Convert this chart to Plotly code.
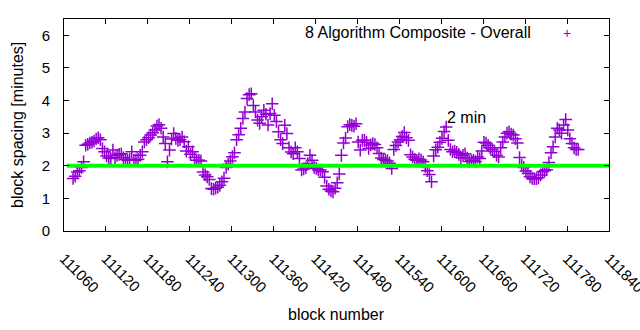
import plotly.graph_objects as go

# ---- data ----
block_start = 111073
block_step = 3
spacing_minutes = [
    1.61, 1.68, 1.81, 1.85, 1.95, 2.12, 2.63, 2.66, 2.70, 2.72,
    2.76, 2.82, 2.86, 2.80, 2.53, 2.43, 2.30, 2.24, 2.22, 2.48,
    2.25, 2.32, 2.35, 2.37, 2.25, 2.19, 2.17, 2.20, 2.43, 2.17,
    2.18, 2.20, 2.32, 2.43, 2.73, 2.80, 2.86, 2.94, 3.01, 3.10,
    3.22, 3.26, 3.15, 2.88, 2.68, 2.12, 2.48, 2.82, 2.99, 2.84,
    2.78, 2.80, 2.88, 2.74, 2.45, 2.58, 2.35, 2.43, 2.25, 2.17,
    2.17, 2.15, 1.81, 1.72, 1.66, 1.58, 1.30, 1.28, 1.31, 1.34,
    1.40, 1.51, 1.62, 1.95, 2.05, 2.15, 2.28, 2.40, 2.80, 2.95,
    3.15, 3.45, 3.65, 4.06, 4.18, 4.21, 3.85, 3.65, 3.40, 3.30,
    3.50, 3.70, 3.58, 3.25, 3.60, 3.90, 3.55, 3.36, 3.04, 2.80,
    2.68, 3.24, 2.99, 2.55, 2.42, 2.37, 2.55, 2.43, 2.22, 1.87,
    1.90, 1.94, 2.07, 2.32, 2.17, 1.95, 1.92, 1.87, 1.87, 1.82,
    1.65, 1.38, 1.28, 1.23, 1.20, 1.31, 1.48, 1.75, 2.32, 2.70,
    2.85, 3.20, 3.26, 3.24, 3.21, 3.29, 2.73, 2.48, 2.78, 2.78,
    2.72, 2.53, 2.64, 2.68, 2.65, 2.55, 2.38, 2.24, 2.19, 2.17,
    2.15, 2.08, 1.92, 2.50, 2.62, 2.73, 2.80, 2.90, 3.02, 2.86,
    2.78, 2.34, 2.27, 2.20, 2.17, 2.21, 2.18, 2.12, 1.98, 1.85,
    1.73, 1.51, 2.30, 2.49, 2.57, 2.72, 2.84, 3.05, 3.19, 2.78,
    2.50, 2.43, 2.45, 2.41, 2.35, 2.25, 2.32, 2.37, 2.24, 2.13,
    2.16, 2.17, 2.13, 2.27, 2.22, 2.45, 2.72, 2.70, 2.63, 2.55,
    2.50, 2.44, 2.32, 2.27, 2.55, 2.73, 2.88, 3.00, 3.04, 2.97,
    2.94, 2.83, 2.70, 2.25, 2.02, 1.95, 1.84, 1.76, 1.66, 1.61,
    1.60, 1.60, 1.63, 1.72, 1.82, 1.85, 1.88, 2.10, 2.40, 2.58,
    2.88, 3.15, 3.10, 3.00, 3.25, 3.42, 3.10, 2.83, 2.68, 2.55,
    2.50, 2.50,
]
blocks = [block_start + block_step * i for i in range(len(spacing_minutes))]

target_x = [111064, 111840]
target_y = [2, 2]

x_ticks = list(range(111060, 111841, 60))
y_ticks = [0, 1, 2, 3, 4, 5, 6]

series_name = "8 Algorithm Composite - Overall"
target_label = "2 min"
x_title = "block number"
y_title = "block spacing [minutes]"

VIOLET = "#9400D3"
FONT = "Liberation Sans, Arial, sans-serif"

fig = go.Figure()
fig.add_trace(go.Scatter(
    x=blocks, y=spacing_minutes, mode="markers",
    marker=dict(symbol="cross-thin", size=9, line=dict(color=VIOLET, width=1.5), color=VIOLET),
    showlegend=False, cliponaxis=True,
))
fig.add_trace(go.Scatter(
    x=target_x, y=target_y, mode="lines",
    line=dict(color="#00FF00", width=4), showlegend=False,
))

axis_common = dict(
    showgrid=False, zeroline=False, showline=True, linecolor="black", linewidth=1,
    mirror="allticks", ticks="inside", ticklen=5, tickcolor="black", tickwidth=1,
    tickfont=dict(family=FONT, size=15, color="black"), automargin=False,
)
fig.update_xaxes(
    range=[111060, 111840], tickvals=x_ticks, ticktext=[str(v) for v in x_ticks],
    tickangle=45, ticklabelstandoff=12, ticklabeloverflow="allow", **axis_common,
)
fig.update_yaxes(
    range=[0, 6.5], tickvals=y_ticks, ticktext=[str(v) for v in y_ticks],
    ticklabelstandoff=10, **axis_common,
)

fig.add_annotation(x=111605, y=3.49, xref="x", yref="y", text=target_label,
                   showarrow=False, xanchor="left", yanchor="middle",
                   font=dict(family=FONT, size=16, color="black"))
fig.add_annotation(x=0.8606, y=0.934, xref="paper", yref="paper", text=series_name,
                   showarrow=False, xanchor="right", yanchor="middle",
                   font=dict(family=FONT, size=16, color="black"))
fig.add_annotation(x=0.923, y=0.934, xref="paper", yref="paper", text="+",
                   showarrow=False, xanchor="center", yanchor="middle",
                   font=dict(family=FONT, size=14, color=VIOLET))
fig.add_annotation(x=-0.0862, y=0.5, xref="paper", yref="paper", text=y_title,
                   textangle=-90, showarrow=False, xanchor="center", yanchor="middle",
                   font=dict(family=FONT, size=16, color="black"))
fig.add_annotation(x=0.5, y=-0.396, xref="paper", yref="paper", text=x_title,
                   showarrow=False, xanchor="center", yanchor="middle",
                   font=dict(family=FONT, size=16, color="black"))

fig.update_layout(
    width=640, height=330, margin=dict(l=64, r=31, t=19, b=99, autoexpand=False),
    paper_bgcolor="white", plot_bgcolor="white", showlegend=False,
)
fig.write_html("out.html")
